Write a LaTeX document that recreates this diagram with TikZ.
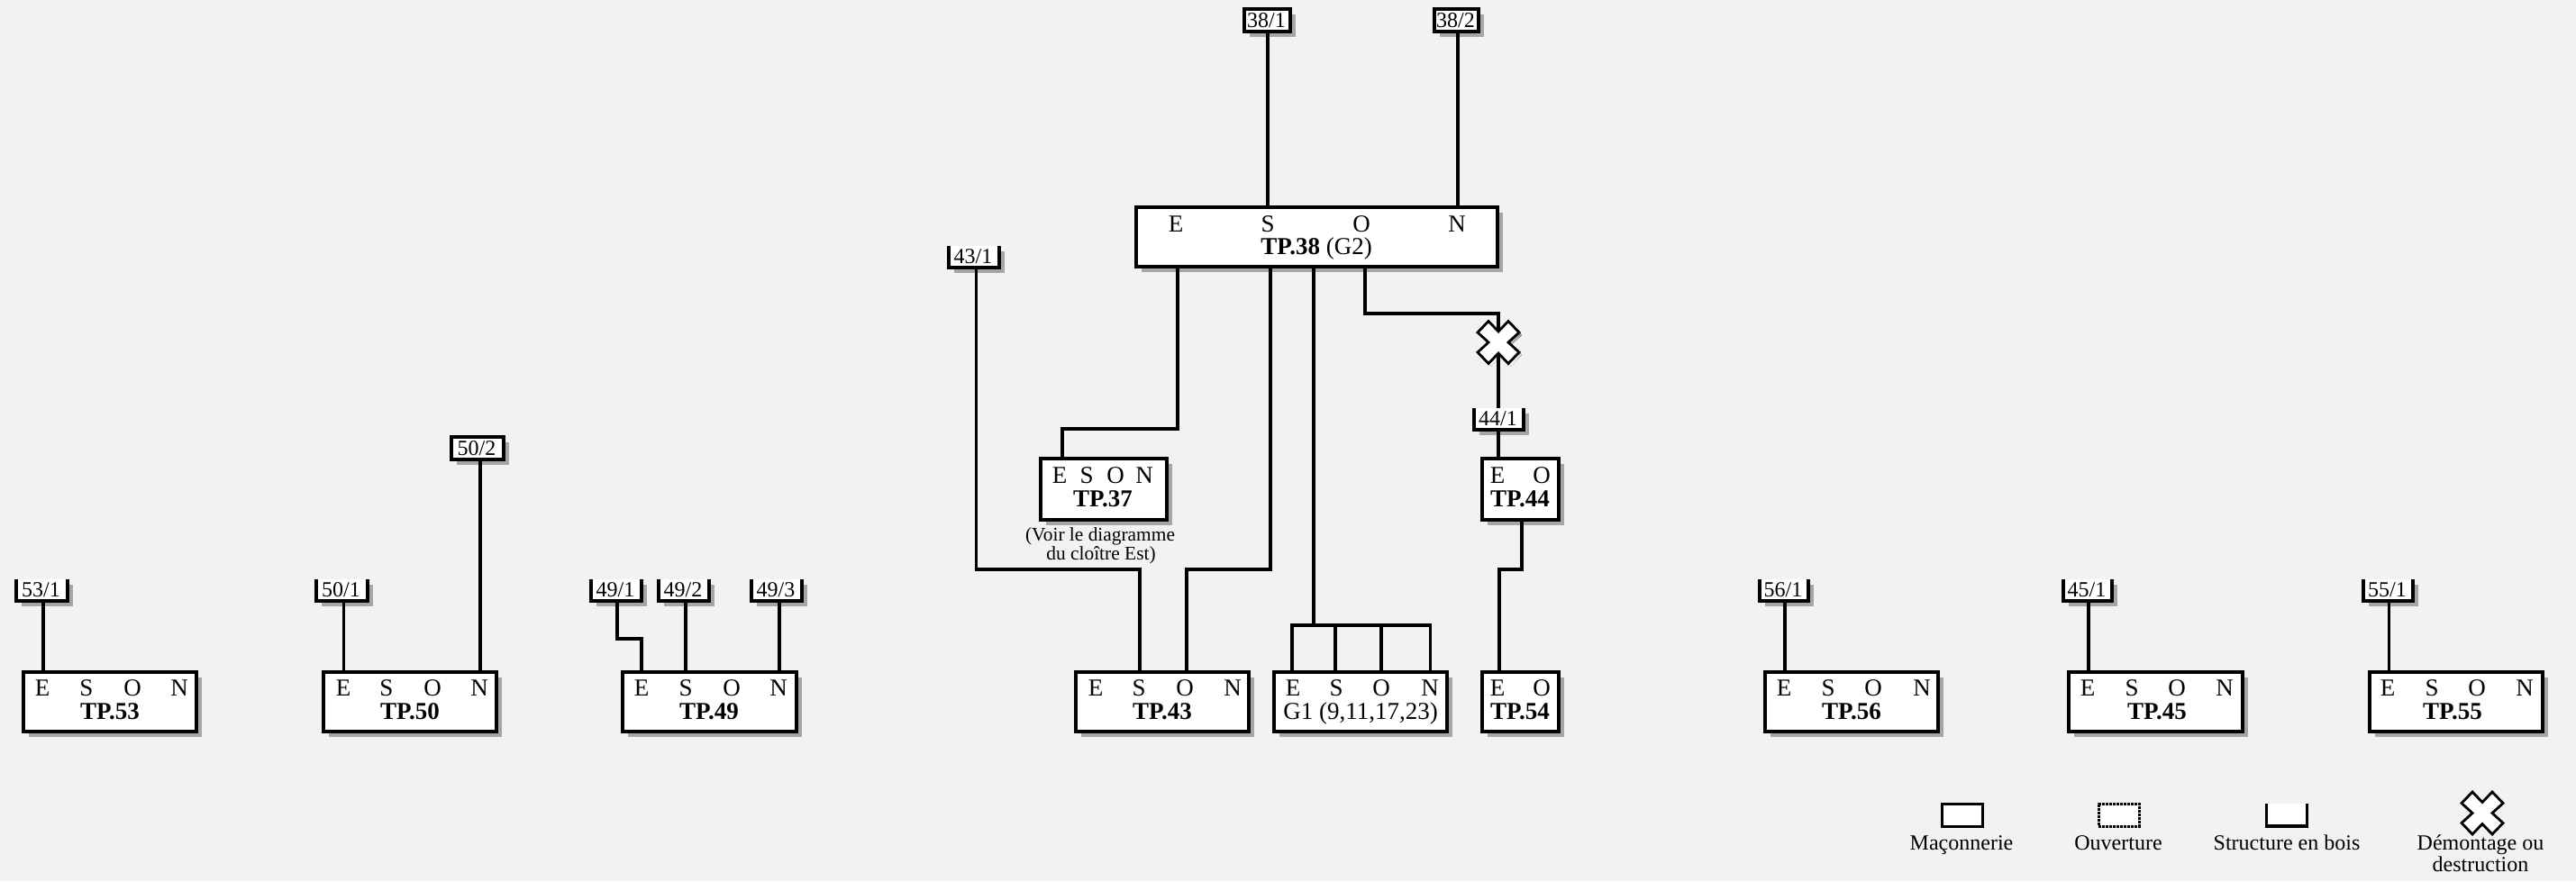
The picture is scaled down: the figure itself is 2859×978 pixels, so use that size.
\documentclass[tikz,border=0pt]{standalone}
\usepackage{fontspec}
\setmainfont{Liberation Serif}
\usetikzlibrary{shadows}
\definecolor{pagebg}{HTML}{F2F2F2}
\definecolor{shade}{HTML}{A6A6A6}
\tikzset{
  shad/.style={drop shadow={shadow xshift=5.5pt,shadow yshift=-5.5pt,fill=shade,opacity=1}},
  wall/.style={draw=black,line width=3.6pt,fill=white,inner sep=0pt,outer sep=0pt,shad},
  tagfill/.style={fill=white,inner sep=0pt,outer sep=0pt,shad},
  link/.style={draw=black,line width=3.2pt,line join=miter},
  wood/.style={draw=black,line width=3.4pt,line join=miter,line cap=butt},
  big/.style={font=\fontsize{27pt}{27pt}\selectfont,inner sep=0pt,anchor=base},
  tagtext/.style={font=\fontsize{24pt}{24pt}\selectfont,inner sep=0pt,anchor=base},
  small/.style={font=\fontsize{21.4pt}{22pt}\selectfont,inner sep=0pt,anchor=base},
  legendtext/.style={font=\fontsize{24pt}{24pt}\selectfont,inner sep=0pt,anchor=base},
  crossshape/.style={draw=black,line width=2.8pt,fill=white,line join=miter},
  legendbox/.style={fill=white,line width=3pt,inner sep=0pt,outer sep=0pt},
}
% name, x0, y0, x1, y1
\newcommand{\wallbox}[5]{\node[wall,minimum width={(#4-#2)*1pt},minimum height={(#5-#3)*1pt}] (#1) at ({(#2+#4)/2},{(#3+#5)/2}) {};}
% closed tag: name, x0, y0, x1, y1, text
\newcommand{\closedtag}[6]{\node[wall,minimum width={(#4-#2)*1pt},minimum height={(#5-#3)*1pt}] (#1) at ({(#2+#4)/2},{(#3+#5)/2}) {};
  \node[tagtext] (#1t) at ({(#2+#4)/2-1},{#5-5}) {#6};}
% open-topped tag
\newcommand{\opentag}[6]{\node[tagfill,minimum width={(#4-#2)*1pt},minimum height={(#5-#3)*1pt}] (#1) at ({(#2+#4)/2},{(#3+#5)/2}) {};
  \draw[wood] (#1.north west) -- (#1.south west) -- (#1.south east) -- (#1.north east);
  \node[tagtext] (#1t) at ({(#2+#4)/2-1},{#5-5}) {#6};}
% four letters: prefix, baseline, xE, xS, xO, xN
\newcommand{\esonletters}[6]{%
  \node[big] (#1e) at (#3,#2) {E};\node[big] (#1s) at (#4,#2) {S};
  \node[big] (#1o) at (#5,#2) {O};\node[big] (#1n) at (#6,#2) {N};}
% standard box: name, x0, x1, xE, xS, xO, xN, xtitle, number
\newcommand{\stdbox}[9]{\wallbox{#1}{#2}{746}{#3}{812}
  \esonletters{#1}{772}{#4}{#5}{#6}{#7}
  \node[big] (#1title) at (#8,798) {\textbf{#9}};}
\newcommand{\crossat}[3]{%
  \fill[shade,shift={(#2+3,#3+3)}] (0,-12)--(11,-23.5)--(23,-11)--(11,0)--(23,11)--(11,23.5)--(0,12)--(-11,23.5)--(-23,11)--(-11,0)--(-23,-11)--(-11,-23.5)--cycle;
  \path[crossshape,shift={(#2,#3)}] (0,-12)--(11,-23.5)--(23,-11)--(11,0)--(23,11)--(11,23.5)--(0,12)--(-11,23.5)--(-23,11)--(-11,0)--(-23,-11)--(-11,-23.5)--cycle;}
\begin{document}
\begin{tikzpicture}[x=1pt,y=-1pt]
\useasboundingbox (0,0) rectangle (2859,978);
\fill[pagebg] (0,0) rectangle (2859,978);

% boxes
\wallbox{tpa}{1261}{230}{1662}{296}
\esonletters{tpa}{257}{1305}{1407}{1511}{1617}
\node[big] (tpatitle) at (1461,282) {\textbf{TP.38} (G2)};

\wallbox{tpb}{1155}{509}{1295}{577}
\esonletters{tpb}{536}{1176}{1206}{1238}{1270}
\node[big] (tpbtitle) at (1224,562) {\textbf{TP.37}};
\node[small] (voira) at (1221,600) {(Voir le diagramme};
\node[small] (voirb) at (1222,621) {du cloître Est)};

\wallbox{tpd}{1645}{509}{1730}{577}
\node[big] (tpde) at (1662,536) {E};\node[big] (tpdo) at (1711,536) {O};
\node[big] (tpdtitle) at (1687,562) {\textbf{TP.44}};

\wallbox{tpe}{1645}{746}{1730}{812}
\node[big] (tpee) at (1662,772) {E};\node[big] (tpeo) at (1711,772) {O};
\node[big] (tpetitle) at (1687,798) {\textbf{TP.54}};

\wallbox{gone}{1414}{746}{1606}{812}
\esonletters{gone}{772}{1435}{1483}{1533}{1587}
\node[big] (gonetitle) at (1510,798) {G1 (9,11,17,23)};

\stdbox{tpc}{1194}{1386}{1216}{1264}{1315}{1368}{1290}{TP.43}
\stdbox{tpf}{26}{218}{47}{96}{147}{199}{122}{TP.53}
\stdbox{tpg}{359}{551}{381}{429}{480}{532}{455}{TP.50}
\stdbox{tph}{691}{884}{712}{761}{812}{864}{787}{TP.49}
\stdbox{tpi}{1959}{2151}{1980}{2029}{2079}{2133}{2055}{TP.56}
\stdbox{tpj}{2296}{2489}{2317}{2366}{2416}{2469}{2394}{TP.45}
\stdbox{tpk}{2630}{2822}{2650}{2699}{2749}{2802}{2722}{TP.55}

% tags
\closedtag{tagaa}{1381}{10}{1432}{35}{38/1}
\closedtag{tagab}{1592}{10}{1641}{35}{38/2}
\closedtag{taggb}{501}{485}{559}{510}{50/2}
\opentag{tagc}{1053}{273}{1109}{297}{43/1}
\opentag{tagd}{1636}{453}{1691}{477}{44/1}
\opentag{tagf}{18}{643}{75}{667}{53/1}
\opentag{tagg}{351}{643}{408}{667}{50/1}
\opentag{taghb}{656}{643}{712}{667}{49/1}
\opentag{taghc}{731}{643}{787}{667}{49/2}
\opentag{taghd}{834}{643}{890}{667}{49/3}
\opentag{tagi}{1953}{643}{2007}{667}{56/1}
\opentag{tagj}{2290}{643}{2344}{667}{45/1}
\opentag{tagk}{2623}{643}{2678}{667}{55/1}

% cross anchor node
\node[inner sep=0pt,outer sep=0pt,minimum size=47pt] (crossa) at (1663,380) {};

% connectors
\draw[link] (1407,0 |- tagaa.south) -- (1407,0 |- tpa.north);
\draw[link] (1618,0 |- tagab.south) -- (1618,0 |- tpa.north);
\draw[link] (1307,0 |- tpa.south) -- (1307,476) -- (1179,476) -- (1179,0 |- tpb.north);
\draw[link] (1410,0 |- tpa.south) -- (1410,632) -- (1317,632) -- (1317,0 |- tpc.north);
\draw[link] (1083.5,0 |- tagc.south) -- (1083.5,632) -- (1265,632) -- (1265,0 |- tpc.north);
\draw[link] (1458,0 |- tpa.south) -- (1458,694);
\draw[link] (1434,0 |- gone.north) -- (1434,694) -- (1587.5,694) -- (1587.5,0 |- gone.north);
\draw[link] (1482,694) -- (1482,0 |- gone.north);
\draw[link] (1533,694) -- (1533,0 |- gone.north);
\draw[link] (1515,0 |- tpa.south) -- (1515,348) -- (1663,348) -- (crossa.center);
\draw[link] (crossa.center) -- (1663,0 |- tagd.north);
\draw[link] (1663,0 |- tagd.south) -- (1663,0 |- tpd.north);
\draw[link] (1689,0 |- tpd.south) -- (1689,632) -- (1664,632) -- (1664,0 |- tpe.north);
\draw[link] (48,0 |- tagf.south) -- (48,0 |- tpf.north);
\draw[link] (381.5,0 |- tagg.south) -- (381.5,0 |- tpg.north);
\draw[link] (533,0 |- taggb.south) -- (533,0 |- tpg.north);
\draw[link] (685,0 |- taghb.south) -- (685,709) -- (712,709) -- (712,0 |- tph.north);
\draw[link] (761,0 |- taghc.south) -- (761,0 |- tph.north);
\draw[link] (865,0 |- taghd.south) -- (865,0 |- tph.north);
\draw[link] (1981,0 |- tagi.south) -- (1981,0 |- tpi.north);
\draw[link] (2318,0 |- tagj.south) -- (2318,0 |- tpj.north);
\draw[link] (2651.5,0 |- tagk.south) -- (2651.5,0 |- tpk.north);

% demolition cross with its stubs visible in the notches
\crossat{crossa}{1663}{380}
\draw[link] (1663,348) -- (1663,368);
\draw[link] (1663,392) -- (1663,0 |- tagd.north);

% legend
\node[legendbox,draw=black,minimum width=45pt,minimum height=25pt] (lega) at (2177.5,904.5) {};
\node[legendtext] (legat) at (2177,943) {Maçonnerie};
\node[legendbox,draw=black,densely dotted,minimum width=45pt,minimum height=25pt] (legb) at (2351.5,904.5) {};
\node[legendtext] (legbt) at (2351,943) {Ouverture};
\node[legendbox,minimum width=45pt,minimum height=25pt] (legc) at (2538,904.5) {};
\draw[wood] (legc.north west) -- (legc.south west) -- (legc.south east) -- (legc.north east);
\node[legendtext] (legct) at (2538,943) {Structure en bois};
\path[crossshape,shift={(2755,902.5)}] (0,-12)--(11,-23.5)--(23,-11)--(11,0)--(23,11)--(11,23.5)--(0,12)--(-11,23.5)--(-23,11)--(-11,0)--(-23,-11)--(-11,-23.5)--cycle;
\node[legendtext] (legdt) at (2753,943) {Démontage ou};
\node[legendtext] (legdu) at (2753,967) {destruction};
\end{tikzpicture}
\end{document}
